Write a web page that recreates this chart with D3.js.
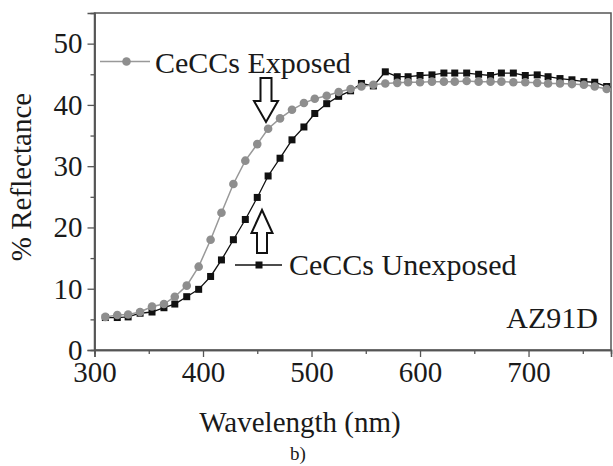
<!DOCTYPE html>
<html>
<head>
<meta charset="utf-8">
<script src="https://cdn.jsdelivr.net/npm/d3@7"></script>
<style>
  body { margin: 0; background: #fff; }
  svg text { font-family: "Liberation Serif", "Times New Roman", serif; fill: #1a1a1a; }
</style>
</head>
<body>
<div id="chart"></div>
<script>
// wavelengths (nm) shared by both curves
const wavelengths = [310, 321, 331, 342, 353, 364, 374, 385, 396, 407, 417, 428, 439, 450, 460,
  471, 482, 493, 503, 514, 525, 536, 546, 557, 568, 579, 589, 600, 611, 622, 632, 643, 654,
  665, 675, 686, 697, 708, 718, 729, 740, 751, 761, 772, 783];

// % reflectance, CeCCs exposed (grey circles)
const exposed = [5.4, 5.7, 5.8, 6.2, 7.1, 7.5, 8.7, 10.5, 13.6, 18.0, 22.4, 27.1, 30.9, 33.6, 36.1,
  37.8, 39.2, 40.3, 41.0, 41.5, 42.1, 42.6, 43.0, 43.3, 43.5, 43.6, 43.7, 43.7, 43.8, 43.8, 43.8,
  43.9, 43.8, 43.8, 43.8, 43.7, 43.7, 43.6, 43.5, 43.5, 43.4, 43.3, 43.0, 42.6, 42.2];

// % reflectance, CeCCs unexposed (black squares)
const unexposed = [5.3, 5.3, 5.4, 6.0, 6.2, 6.9, 7.5, 8.7, 9.9, 12.0, 14.7, 18.0, 21.3, 24.9, 28.4,
  31.3, 34.3, 36.4, 38.6, 40.2, 41.4, 42.3, 43.5, 43.1, 45.4, 44.6, 44.6, 44.8, 44.9, 45.2, 45.2,
  45.2, 45.0, 44.8, 45.2, 45.2, 44.8, 44.9, 44.6, 44.3, 44.1, 43.8, 43.7, 43.0, 42.6];

const xTicks = [300, 400, 500, 600, 700];
const xMinor = [350, 450, 550, 650, 750];
const yTicks = [0, 10, 20, 30, 40, 50];
const yMinor = [5, 15, 25, 35, 45];

const W = 613, H = 466;
const margin = {top: 13, right: 2, bottom: 116, left: 94.5};
const width = W - margin.left - margin.right;
const height = H - margin.top - margin.bottom;

const svg = d3.select("#chart").append("svg")
  .attr("width", W)
  .attr("height", H);

const g = svg.append("g")
  .attr("transform", `translate(${margin.left},${margin.top})`);

const x = d3.scaleLinear().domain([300, 776]).range([0, width]);
const y = d3.scaleLinear().domain([0, 55]).range([height, 0]);

svg.append("defs").append("clipPath").attr("id", "clip")
  .append("rect").attr("width", width).attr("height", height);

// frame
g.append("rect")
  .attr("width", width).attr("height", height)
  .attr("fill", "none").attr("stroke", "#555").attr("stroke-width", 1.5);

// axes
g.append("g")
  .attr("transform", `translate(0,${height})`)
  .call(d3.axisBottom(x).tickValues(xTicks).tickSize(7).tickPadding(4).tickFormat(d3.format("d")));
g.append("g")
  .attr("transform", `translate(0,${height})`)
  .call(d3.axisBottom(x).tickValues(xMinor).tickSize(4).tickFormat(""));
g.append("g")
  .call(d3.axisLeft(y).tickValues(yTicks).tickSize(7).tickPadding(5));
g.append("g")
  .call(d3.axisLeft(y).tickValues(yMinor).tickSize(4).tickFormat(""));

g.selectAll(".domain").attr("stroke", "#555").attr("stroke-width", 1.5);
g.selectAll(".tick line").attr("stroke", "#555").attr("stroke-width", 1.3);
g.selectAll(".tick text").style("font-size", "29px").style("font-family", "Liberation Serif, serif").attr("fill", "#1a1a1a");

// curves
const plot = g.append("g").attr("clip-path", "url(#clip)");

const line = d3.line().x((d, i) => x(wavelengths[i])).y(d => y(d));

plot.append("path")
  .datum(unexposed)
  .attr("fill", "none").attr("stroke", "#111").attr("stroke-width", 1.3)
  .attr("d", line);

plot.selectAll(".sq").data(unexposed).enter().append("rect")
  .attr("x", (d, i) => x(wavelengths[i]) - 3.5)
  .attr("y", d => y(d) - 3.5)
  .attr("width", 7).attr("height", 7)
  .attr("fill", "#111");

plot.append("path")
  .datum(exposed)
  .attr("fill", "none").attr("stroke", "#999").attr("stroke-width", 1.5)
  .attr("d", line);

plot.selectAll(".dot").data(exposed).enter().append("circle")
  .attr("cx", (d, i) => x(wavelengths[i]))
  .attr("cy", d => y(d))
  .attr("r", 4.3)
  .attr("fill", "#8e8e8e");

// legends
svg.append("line").attr("x1", 100).attr("x2", 150).attr("y1", 61.5).attr("y2", 61.5)
  .attr("stroke", "#999").attr("stroke-width", 1.5);
svg.append("circle").attr("cx", 126.5).attr("cy", 61.5).attr("r", 4.3).attr("fill", "#8e8e8e");
svg.append("text").attr("x", 155).attr("y", 73).style("font-size", "30px").text("CeCCs Exposed");

svg.append("line").attr("x1", 235).attr("x2", 282).attr("y1", 265).attr("y2", 265)
  .attr("stroke", "#111").attr("stroke-width", 1.3);
svg.append("rect").attr("x", 255.5).attr("y", 261.5).attr("width", 7).attr("height", 7).attr("fill", "#111");
svg.append("text").attr("x", 289).attr("y", 275).style("font-size", "30px").text("CeCCs Unexposed");

svg.append("text").attr("x", 598).attr("y", 328).attr("text-anchor", "end")
  .style("font-size", "30px").text("AZ91D");

// hollow arrows
function arrow(cx, tip, headBase, tail, headW, shaftW) {
  const p = [[cx - shaftW / 2, tail], [cx - shaftW / 2, headBase], [cx - headW / 2, headBase], [cx, tip],
    [cx + headW / 2, headBase], [cx + shaftW / 2, headBase], [cx + shaftW / 2, tail]];
  svg.append("path")
    .attr("d", "M" + p.join("L") + "Z")
    .attr("fill", "#fff").attr("stroke", "#111").attr("stroke-width", 2);
}
arrow(266, 122, 101, 78, 24, 11);
arrow(262, 210, 233, 253, 21, 10);

// axis titles
svg.append("text")
  .attr("transform", "translate(31,177) rotate(-90)")
  .attr("text-anchor", "middle")
  .style("font-size", "29px").text("% Reflectance");

svg.append("text").attr("x", 300).attr("y", 432).attr("text-anchor", "middle")
  .style("font-size", "29px").text("Wavelength (nm)");

svg.append("text").attr("x", 298).attr("y", 460).attr("text-anchor", "middle")
  .style("font-size", "19px").text("b)");
</script>
</body>
</html>
